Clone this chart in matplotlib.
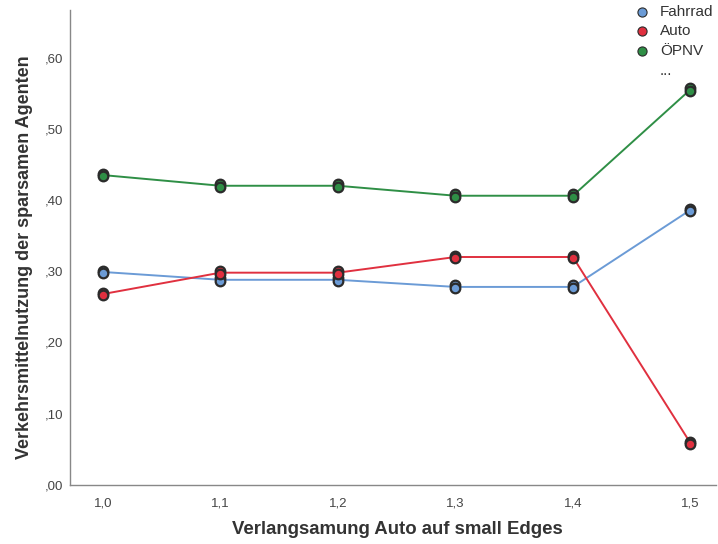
import matplotlib.pyplot as plt
import numpy as np

plt.rcParams['font.family'] = ['Liberation Sans', 'DejaVu Sans']

# Daten
verlangsamung = [1.0, 1.1, 1.2, 1.3, 1.4, 1.5]
fahrrad = [0.299, 0.288, 0.288, 0.278, 0.278, 0.386]
auto = [0.268, 0.298, 0.298, 0.320, 0.320, 0.059]
oepnv = [0.435, 0.420, 0.420, 0.406, 0.406, 0.555]
yticks = [0.0, 0.1, 0.2, 0.3, 0.4, 0.5, 0.6]

fig = plt.figure(figsize=(7.18, 5.44), dpi=100)
ax = fig.add_axes([0.0975, 0.1085, 0.9, 0.8735])

serien = [('Fahrrad', fahrrad, '#6b9bd6'),
          ('Auto', auto, '#e0303f'),
          ('ÖPNV', oepnv, '#2f8f46')]

for name, werte, farbe in serien:
    ax.plot(verlangsamung, werte, color=farbe, lw=1.4, zorder=2)
    # leicht versetzte Punkte, wie im Original uebereinander gestapelt
    ax.scatter(verlangsamung, np.array(werte) + 0.002, s=48, color=farbe,
               edgecolor='#2b2b2b', linewidth=1.6, zorder=3)
    ax.scatter(verlangsamung, np.array(werte) - 0.002, s=48, color=farbe,
               edgecolor='#2b2b2b', linewidth=1.6, zorder=4, label=name)

ax.plot([], [], ' ', label='...')

ax.set_xlim(0.972, 1.522)
ax.set_ylim(0, 0.667)
ax.set_xticks(verlangsamung)
ax.set_xticklabels([f'{v:.1f}'.replace('.', ',') for v in verlangsamung])
ax.set_yticks(yticks)
ax.set_yticklabels([f'{v:.2f}'.replace('0.', ',') for v in yticks])
ax.tick_params(length=0, labelsize=9.5, labelcolor='#444444', pad=5)
ax.tick_params(axis='x', pad=9)

for s in ['top', 'right']:
    ax.spines[s].set_visible(False)
for s in ['left', 'bottom']:
    ax.spines[s].set_color('#888888')
    ax.spines[s].set_linewidth(1.0)

ax.set_xlabel('Verlangsamung Auto auf small Edges', fontsize=13.4,
              fontweight='bold', color='#333333')
ax.set_ylabel('Verkehrsmittelnutzung der sparsamen Agenten', fontsize=13,
              fontweight='bold', color='#333333')
ax.xaxis.set_label_coords(0.506, -0.0765)
ax.yaxis.set_label_coords(-0.058, 0.48)

leg = ax.legend(loc='upper right', bbox_to_anchor=(1.017, 1.04), frameon=False,
                fontsize=11, handletextpad=0.15, labelspacing=0.38,
                markerscale=0.95)
for t in leg.get_texts():
    t.set_color('#333333')
for h in leg.legend_handles[:3]:
    h.set_linewidth(0.8)

fig.savefig('out.png', dpi=100)
